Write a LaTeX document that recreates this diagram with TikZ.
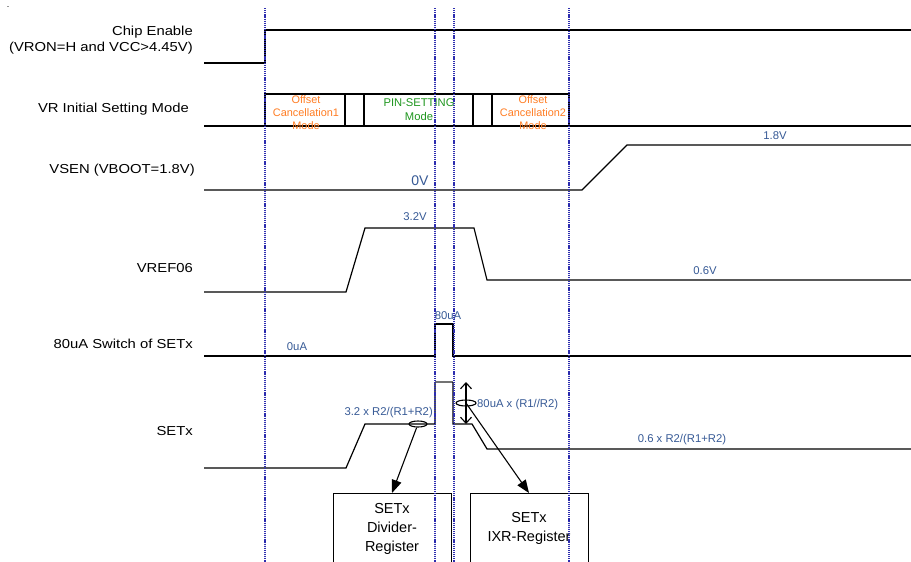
\documentclass[tikz,border=0pt]{standalone}
\usepackage{fontspec}
\setmainfont{Liberation Sans}
\newfontfamily\labfont{Liberation Sans}[FakeStretch=1.14]
\usetikzlibrary{arrows.meta,shapes.geometric}
\definecolor{dotblue}{RGB}{45,45,175}
\definecolor{txtblue}{RGB}{55,90,150}
\definecolor{modeorange}{RGB}{255,125,35}
\definecolor{modegreen}{RGB}{30,150,30}
\begin{document}
\begin{tikzpicture}[x=1pt,y=-1pt,
  siglabel/.style={anchor=east,inner sep=0pt,font=\labfont\fontsize{13}{16}\selectfont},
  vallabel/.style={inner sep=0pt,text=txtblue,font=\fontsize{11.3}{13}\selectfont},
  orangetxt/.style={inner sep=0pt,text=modeorange,font=\fontsize{10.9}{13}\selectfont},
  greentxt/.style={inner sep=0pt,text=modegreen,font=\fontsize{11.2}{13}\selectfont},
  wave/.style={draw=black,line width=1.2pt,line join=miter},
  grayline/.style={draw=black!55,line width=1.2pt},
  modebox/.style={draw=black,line width=1.1pt},
  regbox/.style={draw=black,line width=1pt,fill=white,anchor=north,minimum width=118pt,
    minimum height=70pt,align=center,font=\fontsize{14.5}{19}\selectfont,inner sep=0pt},
  marker/.style={draw=black,line width=1.1pt,ellipse,inner sep=0pt},
  pointer/.style={draw=black,line width=1.1pt,-{Triangle[length=13pt,width=10pt]}},
  dblarrow/.style={draw=black,line width=1.1pt,{Straight Barb[length=6pt,width=11pt]}-{Straight Barb[length=6pt,width=11pt]}},
  guide/.style={draw=dotblue,line width=1.9pt,dash pattern=on 1.2pt off 0.9pt}
]
\clip (0,0) rectangle (911,562);
\fill[white] (0,0) rectangle (911,562);

\node[inner sep=0pt,font=\fontsize{9}{9}\selectfont] (dot) at (8,7) {.};

% signal labels
\node[siglabel,align=right] (lce) at (193,40) {Chip Enable\\(VRON=H and VCC>4.45V)};
\node[siglabel] (lvr) at (189,109) {VR Initial Setting Mode};
\node[siglabel] (lvsen) at (195,170) {VSEN (VBOOT=1.8V)};
\node[siglabel] (lvref) at (193,268) {VREF06};
\node[siglabel] (lsw) at (193,344) {80uA Switch of SETx};
\node[siglabel] (lset) at (193,431) {SETx};

% Chip enable
\draw[wave] (204,63) -- (265,63) -- (265,30) -- (911,30);

% VR initial setting mode
\draw[wave] (204,126) -- (911,126);
\draw[modebox] (265,94) rectangle (569,126);
\draw[modebox] (345,94) -- (345,126);
\draw[modebox] (364,94) -- (364,126);
\draw[modebox] (473,94) -- (473,126);
\draw[modebox] (492,94) -- (492,126);
\node[orangetxt] (oc1a) at (306,99.5) {Offset};
\node[orangetxt] (oc1b) at (306,112.5) {Cancellation1};
\node[orangetxt] (oc1c) at (306,125.5) {Mode};
\node[greentxt] (pina) at (419,103) {PIN-SETTING};
\node[greentxt] (pinb) at (419,116.5) {Mode};
\node[orangetxt] (oc2a) at (533,99.5) {Offset};
\node[orangetxt] (oc2b) at (533,112.5) {Cancellation2};
\node[orangetxt] (oc2c) at (533,125.5) {Mode};

% VSEN
\draw[wave] (204,190) -- (582,190) -- (627,145) -- (911,145);
\node[inner sep=0pt,text=txtblue,font=\fontsize{14}{16}\selectfont] (v0) at (420,181) {0V};
\node[vallabel] (v18) at (775,136) {1.8V};

% VREF06
\draw[wave] (204,292) -- (346,292) -- (365,228) -- (474,228) -- (487,280) -- (911,280);
\node[vallabel] (v32) at (415,217) {3.2V};
\node[vallabel] (v06) at (705,270.5) {0.6V};

% 80uA switch
\draw[wave] (204,356) -- (435,356) -- (435,324) -- (453,324) -- (453,356) -- (911,356);
\node[vallabel] (i0) at (297,347) {0uA};
\node[vallabel] (i80) at (448,316) {80uA};

% SETx
\draw[wave] (204,468) -- (346,468) -- (365,424) -- (435,424) -- (435,382);
\draw[grayline] (435,382) -- (453,382);
\draw[wave] (453,382) -- (453,424) -- (472,424) -- (487,449) -- (911,449);
\node[vallabel,anchor=east] (s32) at (433,412.5) {3.2 x R2/(R1+R2)};
\node[vallabel,anchor=west] (s80) at (477,405) {80uA x (R1//R2)};
\node[vallabel] (s06) at (682,440) {0.6 x R2/(R1+R2)};

\coordinate (dtop) at (466,382);
\coordinate (dbot) at (466,424);
\draw[dblarrow] (dtop) -- (dbot);

\node[marker,minimum width=18pt,minimum height=6pt] (e1) at (418,424) {};
\node[marker,minimum width=20pt,minimum height=6pt] (e2) at (466,403) {};

% register boxes
\node[regbox] (b1) at (392,493) {SETx\\Divider-\\Register};
\node[regbox] (b2) at (529,493) {SETx\\IXR-Register};

\draw[pointer] (e1) -- (b1.north);
\draw[pointer] (e2.center) -- (b2.north);

% dotted guides
\coordinate (g1t) at (265,8);  \coordinate (g1b) at (265,562);
\coordinate (g2t) at (435,8);  \coordinate (g2b) at (435,562);
\coordinate (g3t) at (454,8);  \coordinate (g3b) at (454,562);
\coordinate (g4t) at (569,8);  \coordinate (g4b) at (569,562);
\draw[guide] (g1t) -- (g1b);
\draw[guide] (g2t) -- (g2b);
\draw[guide] (g3t) -- (g3b);
\draw[guide] (g4t) -- (g4b);
\end{tikzpicture}
\end{document}
